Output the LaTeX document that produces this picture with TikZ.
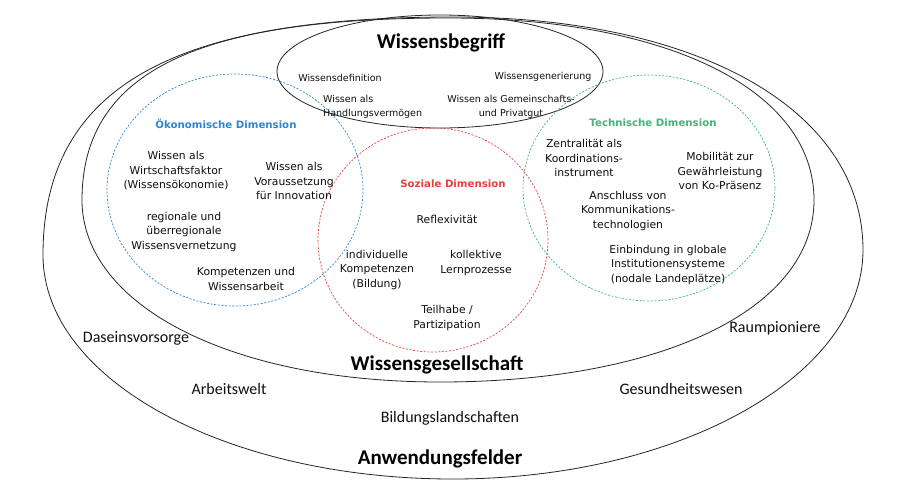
\documentclass[tikz,border=0pt]{standalone}
\usepackage{fontspec}
\setmainfont{Carlito}
\newfontfamily\innerfont{DejaVu Sans}
\newfontfamily\outerfont{Carlito}
\definecolor{ecoblue}{RGB}{46,134,208}
\definecolor{socred}{RGB}{232,65,60}
\definecolor{tecgreen}{RGB}{60,184,120}
\definecolor{txtgray}{RGB}{15,15,15}
\begin{document}
\begin{tikzpicture}[x=1pt,y=-1pt,
  solidell/.style={draw=black!85,line width=0.8pt},
  dashell/.style={line width=0.7pt,dash pattern=on 2pt off 1.6pt},
  txtin/.style={font=\innerfont\fontsize{10.8}{14.5}\selectfont,align=center,inner sep=0pt,text=txtgray},
  txttop/.style={font=\innerfont\fontsize{9.5}{14}\selectfont,align=center,inner sep=0pt,text=txtgray},
  headtxt/.style={font=\innerfont\bfseries\fontsize{10.2}{13}\selectfont,inner sep=0pt},
  outerlbl/.style={font=\outerfont\fontsize{16}{18}\selectfont,inner sep=0pt,text=txtgray},
  titlelbl/.style={font=\outerfont\bfseries\fontsize{21}{24}\selectfont,inner sep=0pt,text=black}]
\useasboundingbox (0,0) rectangle (900,496);
\fill[white] (0,0) rectangle (900,496);
% outer shape (Anwendungsfelder)
\draw[solidell] (43,255) .. controls (43,80) and (185,17) .. (453,17)
  .. controls (699,17) and (863,110) .. (863,250)
  .. controls (863,376) and (679,479) .. (453,479)
  .. controls (227,479) and (43,380) .. cycle;
% middle shape (Wissensgesellschaft)
\draw[solidell] (82,200) .. controls (82,68) and (205,18) .. (448,18)
  .. controls (668,18) and (814,90) .. (814,200)
  .. controls (814,310) and (660,382) .. (440,382)
  .. controls (228,382) and (82,304) .. cycle;
% Wissensbegriff ellipse
\draw[solidell] (440,71.5) ellipse [x radius=163pt, y radius=56.5pt];
\draw[dashell,draw=ecoblue] (235,190) ellipse [x radius=128pt, y radius=116pt];
\draw[dashell,draw=socred] (433,240) ellipse [x radius=115pt, y radius=112pt];
\draw[dashell,draw=tecgreen] (649,188) ellipse [x radius=126pt, y radius=113pt];
% Wissensbegriff
\node[titlelbl] (wb) at (441,43) {Wissensbegriff};
\node[txttop] (wdef) at (340,78) {Wissensdefinition};
\node[txttop] (wgen) at (543,77) {Wissensgenerierung};
\node[txttop,align=left,anchor=west] (whv) at (323,107) {Wissen als\\Handlungsvermögen};
\node[txttop] (wgp) at (511,107) {Wissen als Gemeinschafts-\\und Privatgut};
% Oekonomische
\node[headtxt,text=ecoblue] (oek) at (226,124) {Ökonomische Dimension};
\node[txtin] (oek1) at (176,171) {Wissen als\\Wirtschaftsfaktor\\(Wissensökonomie)};
\node[txtin] (oek2) at (294,181) {Wissen als\\Voraussetzung\\für Innovation};
\node[txtin] (oek3) at (184,232) {regionale und\\überregionale\\Wissensvernetzung};
\node[txtin] (oek4) at (246,279) {Kompetenzen und\\Wissensarbeit};
% Soziale
\node[headtxt,text=socred] (soz) at (453,184) {Soziale Dimension};
\node[txtin] (soz1) at (447,219) {Reflexivität};
\node[txtin] (soz2) at (377,270) {individuelle\\Kompetenzen\\(Bildung)};
\node[txtin] (soz3) at (476,263) {kollektive\\Lernprozesse};
\node[txtin] (soz4) at (447,318) {Teilhabe /\\Partizipation};
% Technische
\node[headtxt,text=tecgreen] (tec) at (653,123) {Technische Dimension};
\node[txtin] (tec1) at (584,158) {Zentralität als\\Koordinations-\\instrument};
\node[txtin] (tec2) at (720,171) {Mobilität zur\\Gewährleistung\\von Ko-Präsenz};
\node[txtin] (tec3) at (628,211) {Anschluss von\\Kommunikations-\\technologien};
\node[txtin] (tec4) at (668,265) {Einbindung in globale\\Institutionensysteme\\(nodale Landeplätze)};
% outer
\node[outerlbl] (dv) at (136,338) {Daseinsvorsorge};
\node[outerlbl] (rp) at (775,328) {Raumpioniere};
\node[titlelbl] (wg) at (437,365) {Wissensgesellschaft};
\node[outerlbl] (aw) at (229,389) {Arbeitswelt};
\node[outerlbl] (gw) at (681,389) {Gesundheitswesen};
\node[outerlbl] (bl) at (450,418) {Bildungslandschaften};
\node[titlelbl] (af) at (440,459) {Anwendungsfelder};
\end{tikzpicture}
\end{document}
